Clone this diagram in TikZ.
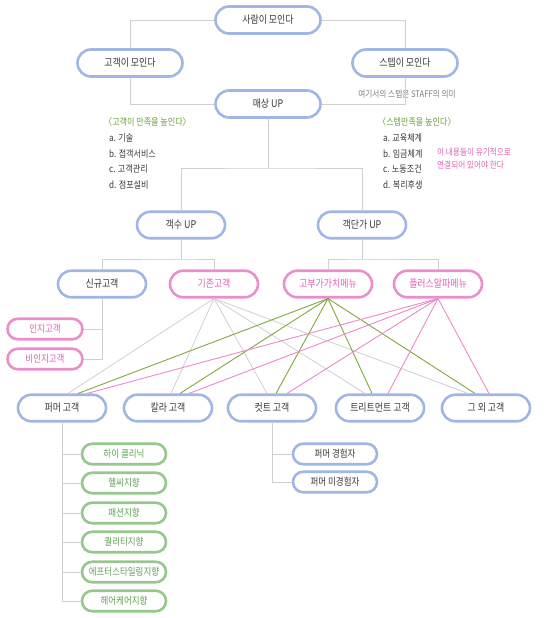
\documentclass[tikz,border=0pt]{standalone}
\usepackage{fontspec}
\setmainfont[FakeStretch=0.85]{Noto Sans CJK KR}
\usepackage{tikz}
\usetikzlibrary{positioning, calc}

\definecolor{bluebd}{RGB}{160,182,228}
\definecolor{pinkbd}{RGB}{234,142,204}
\definecolor{greenbd}{RGB}{150,200,142}
\definecolor{darktxt}{RGB}{55,55,55}
\definecolor{pinktxt}{RGB}{226,96,180}
\definecolor{greentxt}{RGB}{98,160,90}
\definecolor{headgreen}{RGB}{106,160,58}
\definecolor{notegray}{RGB}{125,125,125}
\definecolor{grayln}{RGB}{208,208,208}
\definecolor{greenln}{RGB}{128,168,60}
\definecolor{pinkln}{RGB}{234,138,204}

\begin{document}
\begin{tikzpicture}[
    x=1pt, y=-1pt,
    pill/.style={draw, fill=white, line width=2.6pt, inner sep=0pt,
                 font=\fontsize{10.5}{12}\selectfont},
    bigpill/.style={pill, minimum width=105pt, minimum height=27pt, rounded corners=13.5pt},
    midpill/.style={pill, minimum width=88pt, minimum height=26.5pt, rounded corners=13.2pt},
    smallpill/.style={pill, minimum width=84pt, minimum height=20.5pt, rounded corners=10.2pt,
                      font=\fontsize{10}{11}\selectfont},
    bl/.style={draw=bluebd, text=darktxt},
    pk/.style={draw=pinkbd, text=pinktxt},
    gr/.style={draw=greenbd, text=greentxt},
    item/.style={anchor=west, inner sep=0pt, text=darktxt, font=\fontsize{9.5}{12}\selectfont},
    head/.style={item, text=headgreen},
    link/.style={draw=grayln, line width=0.9pt},
]
\useasboundingbox (0,0) rectangle (550,618);
% --- top loop --------------------------------------------------------------
\node[bigpill,bl] (saram)   at (268,20)  {사람이 모인다};
\node[bigpill,bl] (gogaek)  at (130,63)  {고객이 모인다};
\node[bigpill,bl] (staff)   at (405,63)  {스텝이 모인다};
\node[bigpill,bl] (maesang) at (268,104) {매상 UP};
\node[item, anchor=center, text=notegray, font=\fontsize{9}{11}\selectfont] (note) at (407,94) {여기서의 스텝은 STAFF의 의미};
\draw[link] (saram) -| (gogaek);
\draw[link] (saram) -| (staff);
\draw[link] (gogaek) |- (maesang);
\draw[link] (staff) |- (maesang);
% --- satisfaction lists ----------------------------------------------------
\node[head] (lhead) at (104,122) {〈고객이 만족을 높인다〉};
\node[item] (la) at (109,138) {a. 기술};
\node[item] (lb) at (109,154) {b. 접객서비스};
\node[item] (lc) at (109,169) {c. 고객관리};
\node[item] (ld) at (109,185) {d. 점포설비};
\node[head] (rhead) at (378,122) {〈스텝만족을 높인다〉};
\node[item] (ra) at (383,138) {a. 교육체계};
\node[item] (rb) at (383,154) {b. 임금체계};
\node[item] (rc) at (383,169) {c. 노동조건};
\node[item] (rd) at (383,185) {d. 복리후생};
\node[item, text=pinktxt, align=left, font=\fontsize{9}{13}\selectfont] (memo) at (437,159)
     {이 내용들이 유기적으로\\연결되어 있어야 한다};
% --- customers / price -----------------------------------------------------
\node[midpill,bl] (gaeksu)  at (181,225) {객수 UP};
\node[midpill,bl] (gaekdan) at (362,225) {객단가 UP};
\coordinate (mj) at (268,168);
\draw[link] (maesang) -- (mj);
\draw[link] (gaeksu) |- (mj) -| (gaekdan);
\node[midpill,bl] (sinkyu) at (102,284) {신규고객};
\node[midpill,pk] (gijon)  at (214,284) {기존고객};
\node[midpill,pk] (gobu)   at (328,284) {고부가가치메뉴};
\node[midpill,pk] (plus)   at (438,284) {플러스알파메뉴};
\coordinate (sj) at (181,259);
\coordinate (dj) at (362,259);
\draw[link] (gaeksu) -- (sj);
\draw[link] (sinkyu) |- (sj) -| (gijon);
\draw[link] (gaekdan) -- (dj);
\draw[link] (gobu) |- (dj) -| (plus);
\node[smallpill,pk, minimum width=75pt] (inji)  at (45,329) {인지고객};
\node[smallpill,pk, minimum width=75pt] (binji) at (45,359) {비인지고객};
\draw[link] (sinkyu) |- (inji);
\draw[link] (sinkyu) |- (binji);
% --- menu types ------------------------------------------------------------
\node[midpill,bl] (perm)  at (62,408)  {퍼머 고객};
\node[midpill,bl] (color) at (168,408) {칼라 고객};
\node[midpill,bl] (cut)   at (272,408) {컷트 고객};
\node[midpill,bl] (treat) at (380,408) {트리트먼트 고객};
\node[midpill,bl] (etc)   at (486,408) {그 외 고객};
\foreach \t/\dx in {perm/6, color/3, cut/-5, treat/-15, etc/-18}
  \draw[draw=grayln, line width=0.8pt] (gijon.south) -- ([xshift=\dx pt]\t.north);
\foreach \t/\dx in {perm/16, color/12, cut/4, treat/-8, etc/-11}
  \draw[draw=greenln, line width=0.9pt] (gobu.south) -- ([xshift=\dx pt]\t.north);
\foreach \t/\dx in {perm/25, color/21, cut/15, treat/8, etc/3}
  \draw[draw=pinkln, line width=0.9pt] (plus.south) -- ([xshift=\dx pt]\t.north);
% --- perm customer types ---------------------------------------------------
\node[smallpill,gr] (g1) at (124,454) {하이 클리닉};
\node[smallpill,gr] (g2) at (124,483) {헬씨지향};
\node[smallpill,gr] (g3) at (124,513) {패션지향};
\node[smallpill,gr] (g4) at (124,542) {퀄리티지향};
\node[smallpill,gr] (g5) at (124,572) {에프터스타일링지향};
\node[smallpill,gr] (g6) at (124,601) {헤어케어지향};
\foreach \g in {g1,g2,g3,g4,g5,g6}
  \draw[link] (perm) |- (\g);
% --- cut customer types ----------------------------------------------------
\node[smallpill,bl] (cexp) at (335,454) {퍼머 경험자};
\node[smallpill,bl] (cnew) at (335,482) {퍼머 미경험자};
\draw[link] (cut) |- (cexp);
\draw[link] (cut) |- (cnew);
\end{tikzpicture}
\end{document}
